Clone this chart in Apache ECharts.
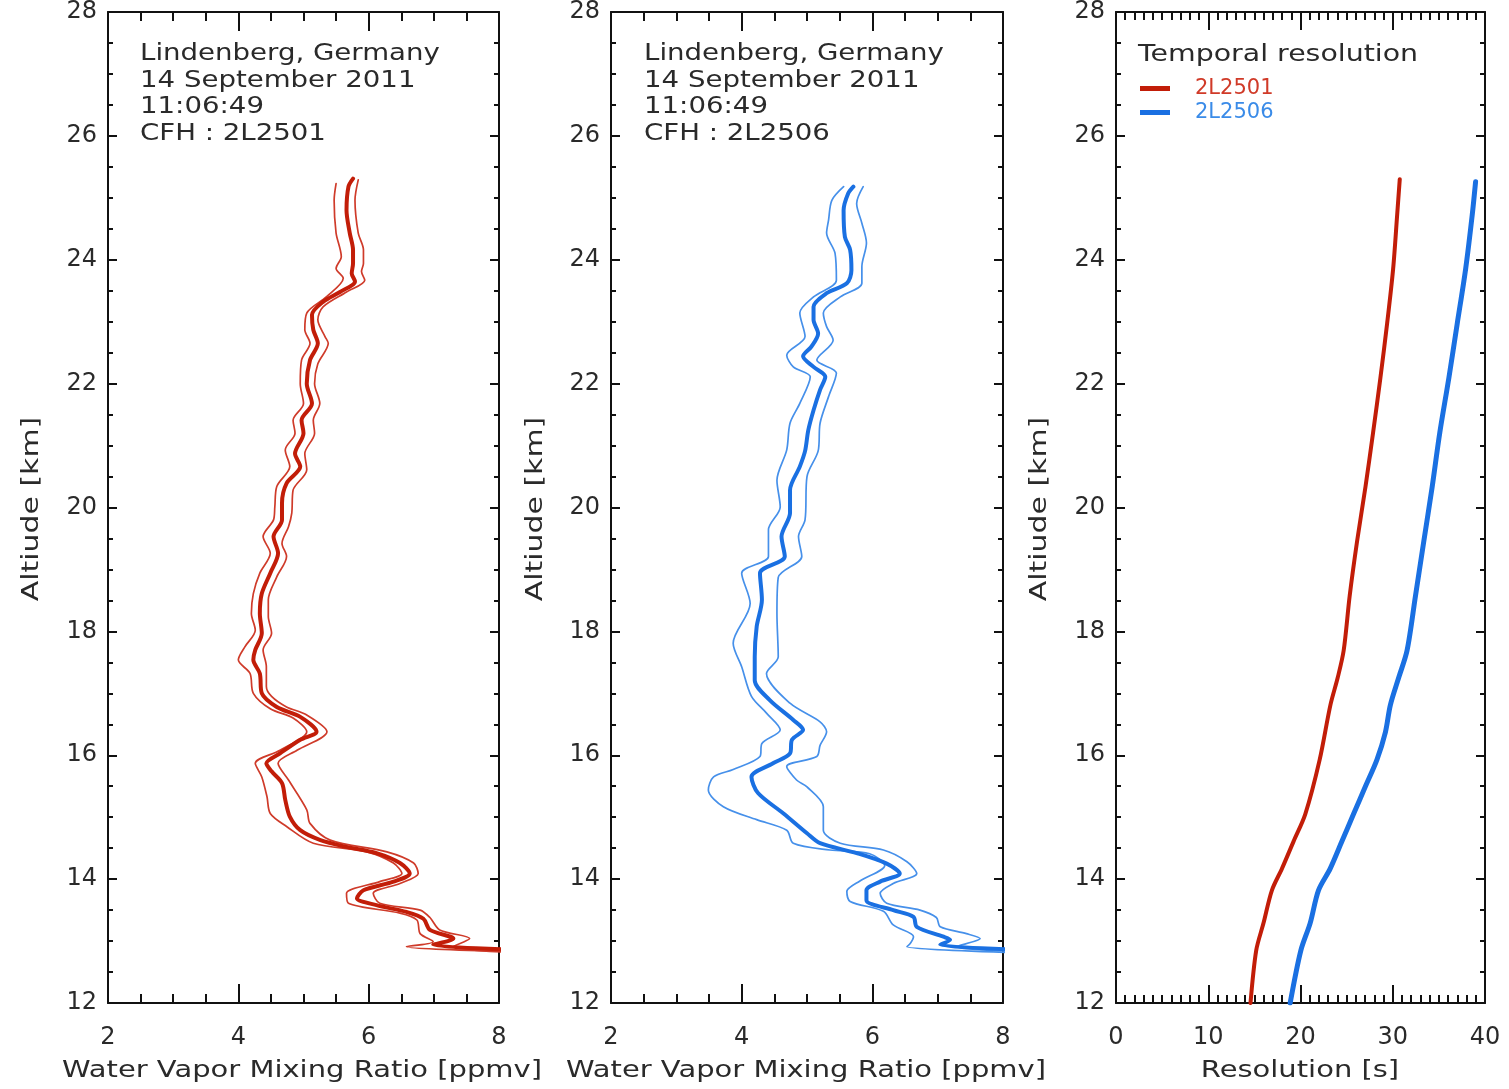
<!DOCTYPE html>
<html>
<head>
<meta charset="utf-8">
<script src="https://cdn.jsdelivr.net/npm/echarts@6/dist/echarts.min.js"></script>
<style>
html,body{margin:0;padding:0;background:#fff;}
#chart{width:1509px;height:1089px;}
</style>
</head>
<body>
<div id="chart"></div>
<script>
// ---------------- DATA ----------------
const altRange = [12, 28];
const mixRange = [2, 8];
const resRange = [0, 40];

const station1Lines = ['Lindenberg, Germany', '14 September 2011', '11:06:49', 'CFH : 2L2501'];
const station2Lines = ['Lindenberg, Germany', '14 September 2011', '11:06:49', 'CFH : 2L2506'];
const legendTitle = 'Temporal resolution';
const sondeNames = ['2L2501', '2L2506'];
const xTitles = ['Water Vapor Mixing Ratio [ppmv]', 'Water Vapor Mixing Ratio [ppmv]', 'Resolution [s]'];
const yTitle = 'Altiude [km]';

// CFH 2L2501 (panel 1) — centre profile
const c1MidAlt = [25.31,25.18,24.80,24.43,24.16,23.94,23.78,23.65,23.48,23.32,23.11,22.87,22.65,22.38,22.00,21.68,21.41,21.20,20.87,20.66,20.39,20.07,19.80,19.53,19.26,18.94,18.61,18.29,17.97,17.70,17.54,17.32,17.00,16.78,16.62,16.38,16.25,16.03,15.87,15.74,15.55,15.28,15.01,14.79,14.63,14.52,14.42,14.26,14.09,13.96,13.82,13.69,13.58,13.47,13.36,13.18,13.04,12.94,12.86];
const c1Mid    = [5.76,5.69,5.66,5.71,5.76,5.76,5.74,5.79,5.56,5.30,5.13,5.15,5.22,5.10,5.05,5.13,4.97,5.00,4.87,4.95,4.74,4.67,4.67,4.54,4.61,4.49,4.36,4.33,4.36,4.26,4.23,4.33,4.36,4.59,4.95,5.20,4.95,4.64,4.43,4.51,4.67,4.72,4.79,4.95,5.26,5.66,6.12,6.48,6.63,6.38,5.92,5.82,6.12,6.58,6.84,6.94,7.30,6.99,8.30];
// lower envelope
const c1LoAlt = [25.23,24.96,24.43,24.05,23.86,23.70,23.40,23.14,22.87,22.65,22.38,22.00,21.68,21.41,21.20,20.93,20.66,20.34,20.01,19.80,19.53,19.26,18.94,18.61,18.29,18.02,17.75,17.54,17.32,17.00,16.75,16.60,16.38,16.08,15.87,15.65,15.33,15.06,14.85,14.58,14.44,14.26,14.09,13.96,13.77,13.61,13.45,13.34,13.12,12.99,12.91,12.83];
const c1Lo    = [5.50,5.47,5.50,5.58,5.50,5.61,5.35,5.05,5.02,5.10,4.97,4.95,5.00,4.84,4.87,4.72,4.79,4.59,4.56,4.54,4.38,4.49,4.33,4.23,4.20,4.26,4.10,4.00,4.18,4.23,4.49,4.84,5.05,4.64,4.26,4.36,4.44,4.49,4.74,5.15,5.97,6.38,6.51,6.17,5.66,5.69,6.48,6.74,6.79,6.99,6.58,8.30];
// upper envelope
const c1HiAlt = [25.29,24.96,24.43,24.16,23.94,23.81,23.67,23.48,23.24,23.03,22.76,22.65,22.32,22.00,21.68,21.41,21.20,20.87,20.61,20.28,19.91,19.69,19.42,19.21,18.88,18.51,18.24,17.97,17.70,17.43,17.11,16.95,16.78,16.65,16.38,16.08,15.87,15.60,15.12,14.90,14.63,14.44,14.26,14.09,13.93,13.77,13.61,13.50,13.38,13.18,13.04,12.91,12.81];
const c1Hi    = [5.84,5.79,5.84,5.92,5.92,5.89,5.94,5.66,5.30,5.22,5.33,5.38,5.22,5.17,5.25,5.15,5.17,5.02,5.05,4.84,4.82,4.77,4.67,4.74,4.59,4.46,4.46,4.51,4.38,4.43,4.43,4.51,4.74,5.05,5.36,4.90,4.61,4.77,5.05,5.10,5.41,6.28,6.69,6.76,6.48,6.07,6.17,6.79,6.94,7.09,7.55,7.30,8.30];

// CFH 2L2506 (panel 2) — centre profile
const c2MidAlt = [25.18,25.07,24.80,24.37,24.16,23.83,23.62,23.46,23.24,23.03,22.81,22.60,22.44,22.27,22.11,21.90,21.57,21.25,20.91,20.66,20.28,19.91,19.53,19.21,18.94,18.51,18.08,17.59,17.21,16.89,16.57,16.41,16.25,16.03,15.87,15.65,15.39,15.06,14.74,14.58,14.42,14.25,14.09,13.96,13.82,13.66,13.50,13.39,13.23,13.07,13.02,12.94,12.86];
const c2Mid    = [5.71,5.63,5.56,5.58,5.66,5.68,5.61,5.30,5.10,5.10,5.17,5.07,4.94,5.10,5.28,5.20,5.10,5.02,4.97,4.89,4.74,4.74,4.61,4.66,4.28,4.31,4.23,4.20,4.20,4.43,4.79,4.94,4.77,4.74,4.48,4.15,4.25,4.64,5.00,5.20,5.76,6.22,6.42,6.12,5.91,5.91,6.32,6.63,6.68,7.09,7.19,7.04,8.30];
// lower envelope
const c2LoAlt = [25.18,24.96,24.64,24.43,24.10,23.67,23.40,23.14,22.76,22.46,22.27,22.11,21.68,21.36,20.93,20.44,20.01,19.64,19.21,18.94,18.45,17.81,17.43,16.95,16.68,16.41,16.19,15.98,15.77,15.65,15.44,15.17,14.96,14.79,14.58,14.47,14.41,14.22,13.97,13.80,13.64,13.48,13.26,13.07,12.96,12.91,12.81];
const c2Lo    = [5.56,5.38,5.33,5.30,5.43,5.45,5.10,4.89,4.97,4.69,4.79,5.05,4.89,4.74,4.69,4.54,4.59,4.41,4.41,4.00,4.13,3.87,4.00,4.15,4.38,4.59,4.31,4.28,3.87,3.57,3.49,3.72,4.23,4.69,4.79,5.35,5.96,6.19,5.81,5.61,5.66,6.17,6.32,6.63,6.58,6.53,8.30];
// upper envelope
const c2HiAlt = [25.18,24.91,24.59,24.27,23.89,23.62,23.40,23.14,22.92,22.70,22.38,22.17,21.79,21.36,20.91,20.50,19.80,19.53,19.21,18.87,18.29,17.59,17.32,16.84,16.54,16.38,16.16,15.98,15.82,15.60,15.49,15.17,14.79,14.58,14.47,14.28,14.09,13.93,13.77,13.61,13.50,13.38,13.23,13.12,13.04,12.91,12.83];
const c2Hi    = [5.86,5.76,5.84,5.91,5.84,5.84,5.51,5.25,5.30,5.40,5.15,5.45,5.33,5.20,5.17,5.00,4.97,4.87,4.92,4.56,4.54,4.56,4.38,4.74,5.20,5.30,5.20,5.15,4.69,4.84,5.00,5.25,5.25,5.51,6.17,6.53,6.68,6.32,6.12,6.22,6.73,6.98,7.04,7.44,7.65,7.29,8.30];

// Temporal resolution (panel 3)
const res1Alt = [25.30,24.73,23.85,22.97,22.09,21.21,20.33,19.45,18.57,17.69,17.25,16.81,15.93,15.05,14.61,14.17,13.82,13.29,12.85,12.00];
const res1    = [30.76,30.48,30.04,29.39,28.66,27.87,27.04,26.13,25.33,24.68,24.03,23.24,22.08,20.52,19.25,17.99,16.90,15.99,15.20,14.58];
const res2Alt = [25.26,24.73,23.85,22.97,22.09,21.21,20.33,19.45,18.57,17.69,17.25,16.81,16.37,15.93,15.49,15.05,14.61,14.17,13.82,13.29,12.85,12.00];
const res2    = [38.98,38.62,37.90,36.99,36.08,35.10,34.27,33.36,32.46,31.55,30.64,29.74,29.20,28.29,27.02,25.75,24.49,23.22,21.95,21.05,20.04,18.88];

// ---------------- STYLE ----------------
const RED = '#c21d08', RED_THIN = '#cf3b2a';
const BLUE = '#1a70e2', BLUE_THIN = '#4690ea';
const TXT = '#2a2a2a';
const FONT = 'DejaVu Sans';

const grids = [
  {left: 108, top: 12, width: 391, height: 991},
  {left: 611, top: 12, width: 392, height: 991},
  {left: 1116, top: 12, width: 369, height: 991}
];

function pairs(xs, alts) { return alts.map((a, i) => [xs[i], a]); }

function xAxisPair(gi, range, interval, minorSplit, majLen, minLen) {
  const common = {
    gridIndex: gi, type: 'value', min: range[0], max: range[1], interval: interval,
    axisLine: {show: true, onZero: false, lineStyle: {color: '#111', width: 2}},
    axisTick: {show: true, inside: true, length: majLen, lineStyle: {color: '#111', width: 2}},
    minorTick: {show: true, splitNumber: minorSplit, length: minLen, lineStyle: {color: '#111', width: 2}},
    splitLine: {show: false}, minorSplitLine: {show: false},
    nameMoveOverlap: false
  };
  return [
    Object.assign({}, common, {position: 'bottom',
      axisLabel: {show: true, margin: 23, fontSize: 24, fontFamily: FONT, color: TXT,
                  showMinLabel: true, showMaxLabel: true, hideOverlap: false}}),
    Object.assign({}, common, {position: 'top', axisLabel: {show: false}})
  ];
}
function yAxisPair(gi) {
  const common = {
    gridIndex: gi, type: 'value', min: altRange[0], max: altRange[1], interval: 2,
    axisLine: {show: true, onZero: false, lineStyle: {color: '#111', width: 2}},
    axisTick: {show: true, inside: true, length: 9, lineStyle: {color: '#111', width: 2}},
    minorTick: {show: true, splitNumber: 4, length: 5, lineStyle: {color: '#111', width: 2}},
    splitLine: {show: false}, minorSplitLine: {show: false},
    nameMoveOverlap: false
  };
  return [
    Object.assign({}, common, {position: 'left',
      axisLabel: {show: true, margin: 11, fontSize: 24, fontFamily: FONT, color: TXT,
                  showMinLabel: true, showMaxLabel: true, hideOverlap: false}}),
    Object.assign({}, common, {position: 'right', axisLabel: {show: false}})
  ];
}

const xAxes = [].concat(
  xAxisPair(0, mixRange, 2, 4, 19, 9),
  xAxisPair(1, mixRange, 2, 4, 19, 9),
  xAxisPair(2, resRange, 10, 10, 18, 8)
);
const yAxes = [].concat(yAxisPair(0), yAxisPair(1), yAxisPair(2));

function lineSeries(name, xi, data, color, width, z, smooth) {
  return {
    name: name, type: 'line', xAxisIndex: xi, yAxisIndex: xi, data: data,
    showSymbol: false, symbol: 'none', smooth: smooth, clip: true, silent: true,
    color: color, itemStyle: {color: color},
    lineStyle: {color: color, width: width, join: 'round', cap: 'round'}, z: z
  };
}

const SM = 0.3;
const series = [
  lineSeries('p1lo', 0, pairs(c1Lo, c1LoAlt), RED_THIN, 1.7, 2, SM),
  lineSeries('p1hi', 0, pairs(c1Hi, c1HiAlt), RED_THIN, 1.7, 2, SM),
  lineSeries('p1mid', 0, pairs(c1Mid, c1MidAlt), RED, 4, 3, SM),
  lineSeries('p2lo', 2, pairs(c2Lo, c2LoAlt), BLUE_THIN, 1.7, 2, SM),
  lineSeries('p2hi', 2, pairs(c2Hi, c2HiAlt), BLUE_THIN, 1.7, 2, SM),
  lineSeries('p2mid', 2, pairs(c2Mid, c2MidAlt), BLUE, 4, 3, SM),
  lineSeries(sondeNames[0], 4, pairs(res1, res1Alt), RED, 4, 3, 0.3),
  lineSeries(sondeNames[1], 4, pairs(res2, res2Alt), BLUE, 5, 3, 0.3)
];

function txt(text, x, y, opts) {
  return Object.assign({
    type: 'text', x: x, y: y, scaleX: 1.2, silent: true, z: 10,
    style: Object.assign({text: text, font: '23px "' + FONT + '"', fill: TXT,
      textAlign: 'left', textVerticalAlign: 'top', align: 'left', verticalAlign: 'top'}, opts && opts.style || {})
  }, opts && opts.el || {});
}
const centre = {textAlign: 'center', align: 'center', textVerticalAlign: 'middle', verticalAlign: 'middle'};

const graphics = [
  txt(station1Lines.join('\n'), 140, 41, {style: {lineHeight: 26.5}}),
  txt(station2Lines.join('\n'), 644, 41, {style: {lineHeight: 26.5}}),
  txt(legendTitle, 1138, 44, {el: {scaleX: 1.235}}),
  txt(xTitles[0], 302, 1071, {style: centre, el: {scaleX: 1.26}}),
  txt(xTitles[1], 806, 1071, {style: centre, el: {scaleX: 1.26}}),
  txt(xTitles[2], 1300, 1071, {style: centre, el: {scaleX: 1.26}}),
  txt(yTitle, 32, 509, {style: centre, el: {rotation: Math.PI / 2, scaleX: 1.3}}),
  txt(yTitle, 536, 509, {style: centre, el: {rotation: Math.PI / 2, scaleX: 1.3}}),
  txt(yTitle, 1040, 509, {style: centre, el: {rotation: Math.PI / 2, scaleX: 1.3}})
];

const chart = echarts.init(document.getElementById('chart'), null, {renderer: 'canvas'});
chart.setOption({
  backgroundColor: '#ffffff',
  animation: false,
  grid: grids.map(g => Object.assign({containLabel: false, outerBoundsMode: 'none'}, g)),
  xAxis: xAxes,
  yAxis: yAxes,
  legend: {
    show: true, orient: 'vertical', left: 1140, top: 78, padding: 0,
    itemWidth: 30, itemHeight: 5, itemGap: 3, icon: 'rect', selectedMode: false,
    data: [
      {name: sondeNames[0], textStyle: {color: '#d03a28'}},
      {name: sondeNames[1], textStyle: {color: '#3a8be8'}}
    ],
    textStyle: {fontSize: 21, fontFamily: FONT, padding: [0, 0, 0, 20]}
  },
  graphic: graphics,
  series: series
});
</script>
</body>
</html>
